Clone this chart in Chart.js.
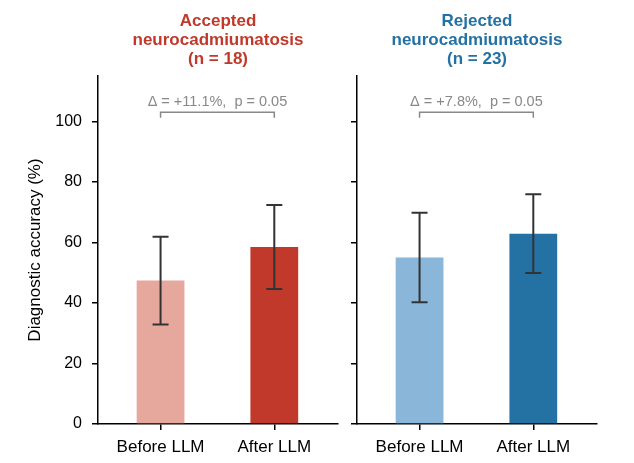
<!DOCTYPE html>
<html>
<head>
<meta charset="utf-8">
<script src="https://cdn.jsdelivr.net/npm/chart.js@4"></script>
<style>
  html, body { margin: 0; padding: 0; background: #fff; }
  #wrap { position: relative; width: 634px; height: 463px; }
  canvas { position: absolute; top: 0; }
  #left { left: 0; }
  #right { left: 345px; }
</style>
</head>
<body>
<div id="wrap">
  <canvas id="left" width="345" height="463"></canvas>
  <canvas id="right" width="289" height="463"></canvas>
</div>
<script>
// data
const categories = ["Before LLM", "After LLM"];
const acceptedMeans = [47.4, 58.5];
const acceptedErrors = [14.5, 13.9];
const rejectedMeans = [55.0, 62.9];
const rejectedErrors = [14.8, 13.0];
const yTicks = [0, 20, 40, 60, 80, 100];
const acceptedTitle = ["Accepted", "neurocadmiumatosis", "(n = 18)"];
const rejectedTitle = ["Rejected", "neurocadmiumatosis", "(n = 23)"];
const acceptedNote = "\u0394 = +11.1%,  p = 0.05";
const rejectedNote = "\u0394 = +7.8%,  p = 0.05";
const bracketLevel = [103, 101.2];

Chart.defaults.font.family = "'Liberation Sans', Arial, sans-serif";
Chart.defaults.color = "#000";

// error bars, bracket with note, and the panel title
const panelExtras = {
  id: "panelExtras",
  afterDatasetsDraw(chart, args, opts) {
    const ctx = chart.ctx;
    const y = chart.scales.y;
    const bars = chart.getDatasetMeta(0).data;
    ctx.save();
    ctx.strokeStyle = "#333";
    ctx.lineWidth = 2;
    bars.forEach(function (bar, i) {
      const m = opts.means[i], e = opts.errors[i];
      const top = y.getPixelForValue(m + e);
      const bot = y.getPixelForValue(m - e);
      ctx.beginPath();
      ctx.moveTo(bar.x, top);
      ctx.lineTo(bar.x, bot);
      ctx.moveTo(bar.x - 8, top);
      ctx.lineTo(bar.x + 8, top);
      ctx.moveTo(bar.x - 8, bot);
      ctx.lineTo(bar.x + 8, bot);
      ctx.stroke();
    });

    // bracket
    const by = y.getPixelForValue(bracketLevel[0]);
    const ly = y.getPixelForValue(bracketLevel[1]);
    ctx.strokeStyle = "#888";
    ctx.lineWidth = 1.5;
    ctx.beginPath();
    ctx.moveTo(bars[0].x, ly);
    ctx.lineTo(bars[0].x, by);
    ctx.lineTo(bars[1].x, by);
    ctx.lineTo(bars[1].x, ly);
    ctx.stroke();
    ctx.fillStyle = "#888";
    ctx.font = "14.5px 'Liberation Sans', Arial, sans-serif";
    ctx.textAlign = "center";
    ctx.textBaseline = "alphabetic";
    ctx.fillText(opts.note, (bars[0].x + bars[1].x) / 2, by - 6);

    // title
    const area = chart.chartArea;
    const cx = (area.left + area.right) / 2;
    ctx.fillStyle = opts.titleColor;
    ctx.font = "bold 17px 'Liberation Sans', Arial, sans-serif";
    ctx.textBaseline = "middle";
    const n = opts.title.length;
    opts.title.forEach(function (line, i) {
      ctx.fillText(line, cx, area.top - 17 - (n - 1 - i) * 19);
    });
    ctx.restore();
  }
};

function makePanel(id, means, errors, colors, title, titleColor, note, left) {
  new Chart(document.getElementById(id), {
    type: "bar",
    data: {
      datasets: [
        {
          data: means.map(function (v, i) { return { x: i, y: v }; }),
          backgroundColor: colors,
          barPercentage: 0.42,
          categoryPercentage: 1,
        },
      ],
    },
    options: {
      responsive: false,
      animation: false,
      layout: {
        padding: { top: 76, right: left ? 7 : 37, left: 0, bottom: 0 },
      },
      plugins: {
        legend: { display: false },
        tooltip: { enabled: false },
        panelExtras: { means: means, errors: errors, title: title, titleColor: titleColor, note: note },
      },
      scales: {
        x: {
          type: "linear",
          min: -0.55,
          max: 1.56,
          offset: false,
          afterBuildTicks: function (scale) {
            scale.ticks = categories.map(function (c, i) { return { value: i }; });
          },
          afterFit: function (scale) { scale.height = 39; },
          ticks: {
            padding: 7,
            font: { size: 17 },
            callback: function (v) { return categories[v]; },
          },
          grid: {
            offset: false,
            drawOnChartArea: false,
            drawTicks: true,
            tickLength: 6,
            color: "#000",
            lineWidth: 1.5,
          },
          border: { display: true, color: "#000", width: 1.5 },
        },
        y: {
          min: 0,
          max: 115,
          afterBuildTicks: function (scale) {
            scale.ticks = yTicks.map(function (v) { return { value: v }; });
          },
          afterFit: function (scale) { scale.width = left ? 98 : 12; },
          ticks: {
            display: left,
            padding: 10,
            font: { size: 16 },
          },
          title: {
            display: left,
            text: "Diagnostic accuracy (%)",
            font: { size: 17 },
            padding: { top: 25, bottom: 0 },
          },
          grid: {
            drawOnChartArea: false,
            drawTicks: true,
            tickLength: 6,
            color: "#000",
            lineWidth: 1.5,
          },
          border: { display: true, color: "#000", width: 1.5 },
        },
      },
    },
    plugins: [panelExtras],
  });
}

makePanel("left", acceptedMeans, acceptedErrors, ["#e6a89d", "#c0392b"],
  acceptedTitle, "#c0392b", acceptedNote, true);
makePanel("right", rejectedMeans, rejectedErrors, ["#8ab6d9", "#2471a3"],
  rejectedTitle, "#2471a3", rejectedNote, false);
</script>
</body>
</html>
